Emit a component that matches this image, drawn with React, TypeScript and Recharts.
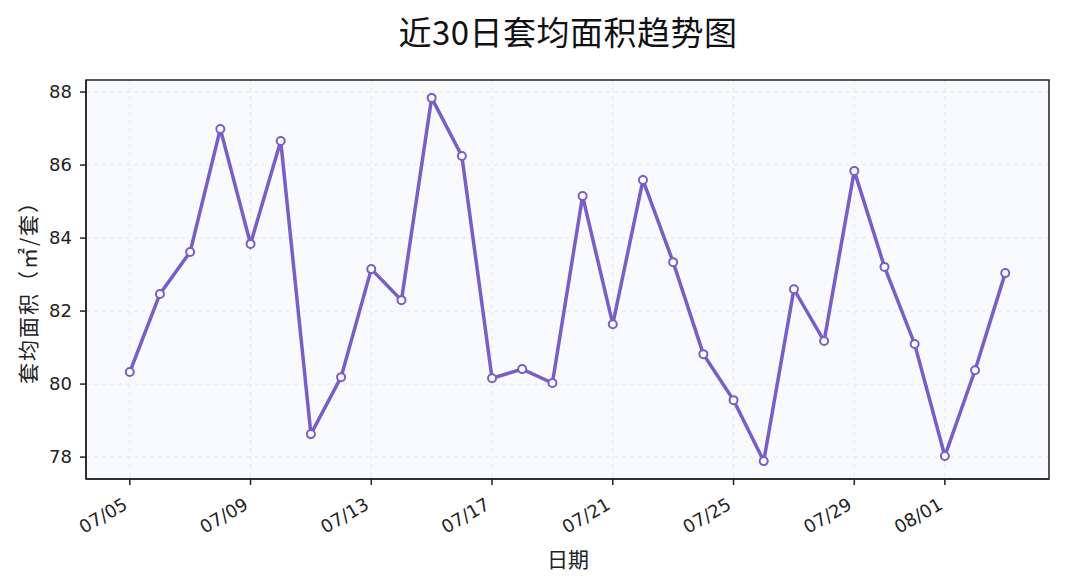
import { LineChart, Line, XAxis, YAxis, CartesianGrid, ReferenceArea } from "recharts";

const dayLabels = [
  "07/05", "07/06", "07/07", "07/08", "07/09", "07/10", "07/11", "07/12", "07/13", "07/14",
  "07/15", "07/16", "07/17", "07/18", "07/19", "07/20", "07/21", "07/22", "07/23", "07/24",
  "07/25", "07/26", "07/27", "07/28", "07/29", "07/30", "07/31", "08/01", "08/02", "08/03",
];
const avgArea = [
  80.33, 82.47, 83.62, 86.99, 83.84, 86.66, 78.63, 80.19, 83.15, 82.3,
  87.84, 86.25, 80.16, 80.41, 80.03, 85.15, 81.64, 85.59, 83.34, 80.82,
  79.56, 77.89, 82.6, 81.18, 85.84, 83.21, 81.1, 78.03, 80.38, 83.04,
];
const xTicks = [0, 4, 8, 12, 16, 20, 24, 27];
const yTicks = [78, 80, 82, 84, 86, 88];

const data = avgArea.map((v, i) => ({ idx: i, day: dayLabels[i], value: v }));

const X_DOMAIN: [number, number] = [-1.45, 30.45];
const Y_DOMAIN: [number, number] = [77.4, 88.33];

const FONT = "'DejaVu Sans', 'Noto Sans CJK SC', sans-serif";
const CJK = "'Noto Sans CJK SC', sans-serif";
const PURPLE = "#7a5ec7";

function XTick({ x, y, payload }: any) {
  const ax = x - 1;
  const ay = y + 21;
  return (
    <text
      x={ax}
      y={ay}
      textAnchor="end"
      fontSize={18}
      fontFamily={FONT}
      fill="#222"
      transform={`rotate(-30, ${ax}, ${ay})`}
    >
      {dayLabels[payload.value]}
    </text>
  );
}

export default function App() {
  return (
    <div style={{ position: "absolute", left: 0, top: 0, width: 1065, height: 588, background: "#fff", fontFamily: FONT }}>
      <div
        style={{
          position: "absolute",
          top: 7,
          left: 0,
          width: 1136,
          textAlign: "center",
          fontSize: 33,
          letterSpacing: 0.5,
          color: "#111",
          fontFamily: CJK,
        }}
      >
        近30日套均面积趋势图
      </div>
      <div
        style={{
          position: "absolute",
          left: 27,
          top: 287,
          transform: "translate(-50%, -50%) rotate(-90deg)",
          whiteSpace: "nowrap",
          fontSize: 21,
          letterSpacing: 2,
          color: "#222",
          fontFamily: CJK,
        }}
      >
        套均面积（㎡/套）
      </div>
      <div
        style={{
          position: "absolute",
          left: 0,
          top: 543,
          width: 1136,
          textAlign: "center",
          fontSize: 21,
          color: "#222",
          fontFamily: CJK,
        }}
      >
        日期
      </div>
      <LineChart width={1065} height={588} data={data} margin={{ top: 80, right: 16, bottom: 0, left: 0 }}>
        <CartesianGrid fill="#f9fafd" stroke="#e6e9f0" strokeDasharray="4 4" horizontalValues={yTicks} verticalValues={xTicks} />
        <XAxis
          dataKey="idx"
          type="number"
          domain={X_DOMAIN}
          ticks={xTicks}
          allowDataOverflow
          height={109}
          tick={<XTick />}
          tickLine={{ stroke: "#222", strokeWidth: 1.5 }}
          tickSize={6}
          axisLine={{ stroke: "#222", strokeWidth: 1.5 }}
          interval={0}
        />
        <YAxis
          domain={Y_DOMAIN}
          ticks={yTicks}
          allowDataOverflow
          width={86}
          tick={{ fontSize: 18, fill: "#222", fontFamily: FONT }}
          tickLine={{ stroke: "#222", strokeWidth: 1.5 }}
          tickSize={6}
          tickMargin={8}
          axisLine={{ stroke: "#222", strokeWidth: 1.5 }}
          interval={0}
        />
        <ReferenceArea
          x1={X_DOMAIN[0]}
          x2={X_DOMAIN[1]}
          y1={Y_DOMAIN[0]}
          y2={Y_DOMAIN[1]}
          fill="none"
          fillOpacity={0}
          stroke="#222"
          strokeWidth={1.5}
          ifOverflow="visible"
        />
        <Line
          type="linear"
          dataKey="value"
          stroke={PURPLE}
          strokeWidth={3.5}
          dot={{ r: 4, fill: "#fff", stroke: PURPLE, strokeWidth: 2 }}
          activeDot={false}
          isAnimationActive={false}
        />
      </LineChart>
    </div>
  );
}
